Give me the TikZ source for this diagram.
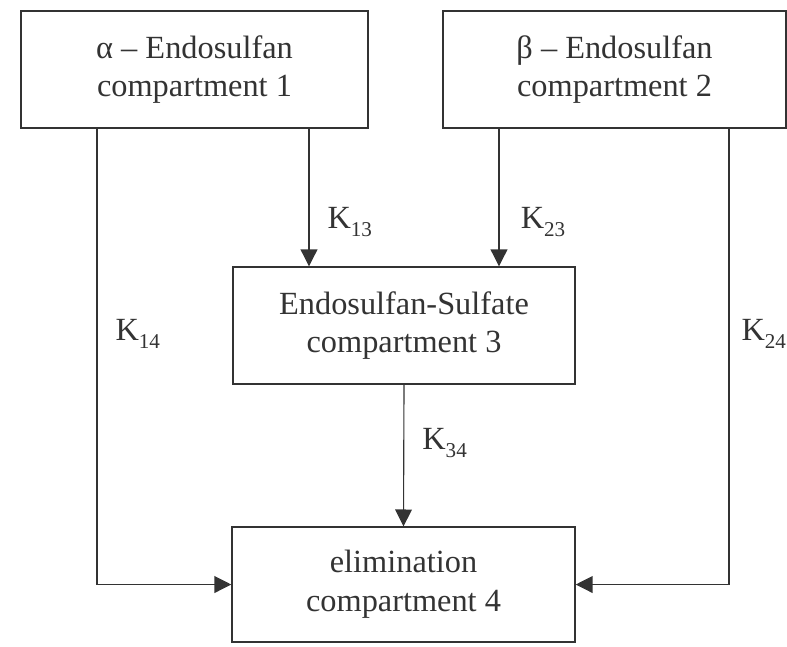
\documentclass[tikz,border=0pt]{standalone}
\usepackage{fontspec}
\setmainfont{Liberation Serif}
\usetikzlibrary{arrows.meta}
\newcommand{\Krate}[1]{K\raisebox{-0.25em}{\fontsize{15}{15}\selectfont #1}}

\begin{document}
\begin{tikzpicture}[x=0.025cm, y=-0.025cm,
  box/.style = {shape=rectangle, draw=black!80, line width=1pt, align=center,
    text=black!80, font=\fontsize{23}{27.5}\selectfont},
  flow/.style = {-{Triangle[length=0.42cm,width=0.42cm]}, draw=black!80, line width=0.8pt},
  rate/.style = {anchor=west, inner sep=0pt, xshift=0.45cm, text=black!80,
    font=\fontsize{23}{27}\selectfont}]
  \useasboundingbox (0,0) rectangle (787,646);

  \node[box, minimum width=8.675cm, minimum height=2.925cm] (Alpha) at (194.5,69.5)
    {α – Endosulfan\\compartment 1};
  \node[box, minimum width=8.575cm, minimum height=2.925cm] (Beta) at (614.5,69.5)
    {β – Endosulfan\\compartment 2};
  \node[box, minimum width=8.55cm, minimum height=2.925cm] (Sulfate) at (404,325.5)
    {Endosulfan-Sulfate\\compartment 3};
  \node[box, minimum width=8.575cm, minimum height=2.875cm] (Elimination) at (403.5,584.5)
    {elimination\\compartment 4};

  \coordinate (Col14) at (97,0);
  \coordinate (Col13) at (309,0);
  \coordinate (Col23) at (499,0);
  \coordinate (Col24) at (729,0);

  \draw[flow] (Alpha.south -| Col14) |- node[rate, pos=0.225] {\Krate{14}} (Elimination.west);
  \draw[flow] (Alpha.south -| Col13) -- node[rate, pos=0.68] {\Krate{13}} (Sulfate.north -| Col13);
  \draw[flow] (Beta.south -| Col23) -- node[rate, pos=0.68, xshift=0.08cm] {\Krate{23}} (Sulfate.north -| Col23);
  \draw[flow] (Beta.south -| Col24) |- node[rate, pos=0.225, xshift=-0.15cm] {\Krate{24}} (Elimination.east);
  \draw[flow] (Sulfate.south) -- node[rate, pos=0.41] {\Krate{34}} (Elimination.north);
\end{tikzpicture}
\end{document}
